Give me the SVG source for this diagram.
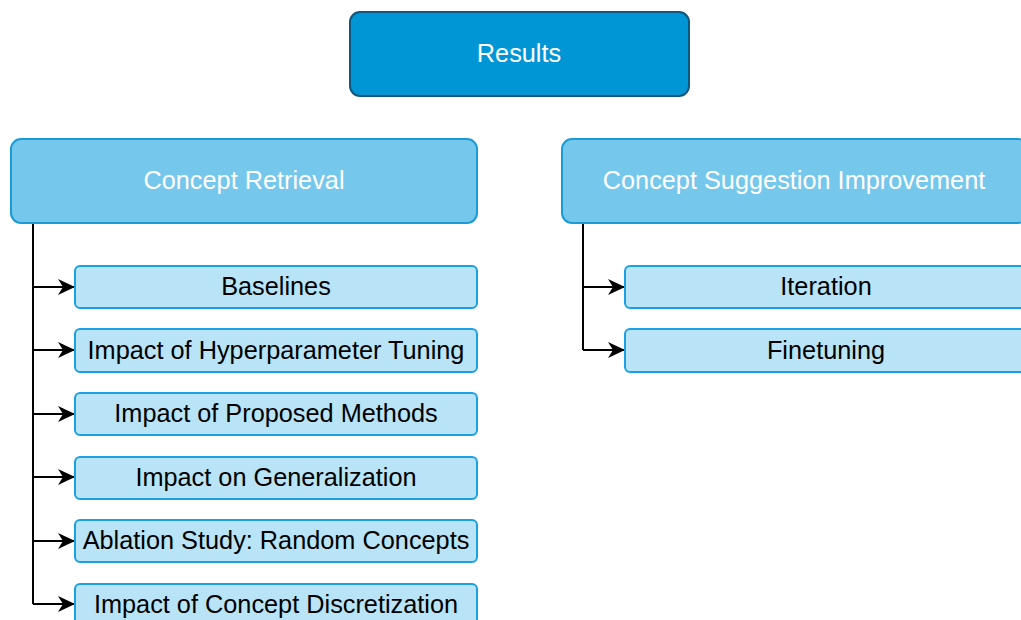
<svg xmlns="http://www.w3.org/2000/svg" width="1021" height="620" viewBox="0 0 1021 620">
  <defs>
    <marker id="arrow" viewBox="0 0 17 16" refX="16" refY="8" markerWidth="17" markerHeight="16" markerUnits="userSpaceOnUse" orient="auto">
      <path d="M0,0 L17,8 L0,16 L5,8 Z" fill="#000"/>
    </marker>
    <style>
      text { font-family: "Liberation Sans", Arial, sans-serif; font-size: 25.3px; text-anchor: middle; dominant-baseline: central; }
      .root { fill: #0096D6; stroke: #10577D; stroke-width: 2; }
      .topic { fill: #76C7EC; stroke: #1A9BD7; stroke-width: 2; }
      .leaf { fill: #B9E3F6; stroke: #1BA1E2; stroke-width: 2; }
      .light { fill: #ffffff; }
      .dark { fill: #000000; }
      .edge { fill: none; stroke: #000; stroke-width: 2; }
    </style>
  </defs>
  <rect width="1021" height="620" fill="#ffffff"/>

  <g id="connectors">
    <path class="edge" d="M33,224 V604"/>
    <path class="edge" d="M33,287 H74" marker-end="url(#arrow)"/>
    <path class="edge" d="M33,350 H74" marker-end="url(#arrow)"/>
    <path class="edge" d="M33,414 H74" marker-end="url(#arrow)"/>
    <path class="edge" d="M33,477 H74" marker-end="url(#arrow)"/>
    <path class="edge" d="M33,541 H74" marker-end="url(#arrow)"/>
    <path class="edge" d="M33,604 H74" marker-end="url(#arrow)"/>
    <path class="edge" d="M583,224 V350"/>
    <path class="edge" d="M583,287 H624" marker-end="url(#arrow)"/>
    <path class="edge" d="M583,350 H624" marker-end="url(#arrow)"/>
  </g>

  <g id="results">
    <rect class="root" x="350" y="12" width="339" height="84" rx="10"/>
    <text class="light" x="519" y="53">Results</text>
  </g>

  <g id="concept-retrieval">
    <rect class="topic" x="11" y="139" width="466" height="84" rx="10"/>
    <text class="light" x="244" y="180">Concept Retrieval</text>
  </g>

  <g id="concept-suggestion">
    <rect class="topic" x="562" y="139" width="466" height="84" rx="10"/>
    <text class="light" x="794" y="180">Concept Suggestion Improvement</text>
  </g>

  <g id="baselines">
    <rect class="leaf" x="75" y="266" width="402" height="42" rx="5"/>
    <text class="dark" x="276" y="286">Baselines</text>
  </g>
  <g id="hyperparameter">
    <rect class="leaf" x="75" y="329" width="402" height="43" rx="5"/>
    <text class="dark" x="276" y="350">Impact of Hyperparameter Tuning</text>
  </g>
  <g id="proposed-methods">
    <rect class="leaf" x="75" y="393" width="402" height="42" rx="5"/>
    <text class="dark" x="276" y="413">Impact of Proposed Methods</text>
  </g>
  <g id="generalization">
    <rect class="leaf" x="75" y="457" width="402" height="42" rx="5"/>
    <text class="dark" x="276" y="477">Impact on Generalization</text>
  </g>
  <g id="ablation">
    <rect class="leaf" x="75" y="520" width="402" height="42" rx="5"/>
    <text class="dark" x="276" y="540">Ablation Study: Random Concepts</text>
  </g>
  <g id="discretization">
    <rect class="leaf" x="75" y="584" width="402" height="42" rx="5"/>
    <text class="dark" x="276" y="604">Impact of Concept Discretization</text>
  </g>

  <g id="iteration">
    <rect class="leaf" x="625" y="266" width="402" height="42" rx="5"/>
    <text class="dark" x="826" y="286">Iteration</text>
  </g>
  <g id="finetuning">
    <rect class="leaf" x="625" y="329" width="402" height="43" rx="5"/>
    <text class="dark" x="826" y="350">Finetuning</text>
  </g>
</svg>
